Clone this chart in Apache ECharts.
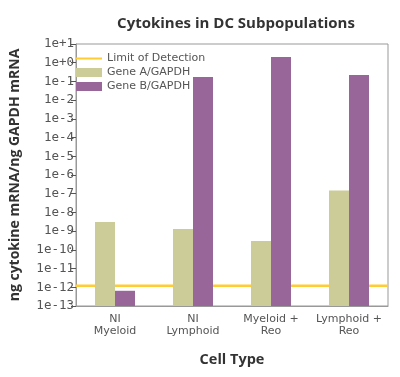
<!DOCTYPE html>
<html>
<head>
<meta charset="utf-8">
<script src="https://cdn.jsdelivr.net/npm/echarts@6/dist/echarts.min.js"></script>
<style>
  html, body { margin: 0; padding: 0; background: #fff; }
  #chart { width: 400px; height: 377px; }
</style>
</head>
<body>
<div id="chart"></div>
<script>
// data
var categories = ["NI\nMyeloid", "NI\nLymphoid", "Myeloid +\nReo", "Lymphoid +\nReo"];
var geneA = [3.1e-9, 1.3e-9, 3.0e-10, 1.5e-7];
var geneB = [6.5e-13, 0.17, 2.0, 0.22];
var limitOfDetection = 1.2e-12;

var chart = echarts.init(document.getElementById("chart"));

var option = {
  backgroundColor: "#fff",
  animation: false,
  title: {
    text: "Cytokines in DC Subpopulations",
    left: 231,
    top: 11,
    textAlign: "center",
    textStyle: { fontFamily: "Open Sans", fontWeight: "bold", fontSize: 15, color: "#333" }
  },
  legend: {
    orient: "vertical",
    left: 75,
    top: 53,
    padding: 0,
    itemWidth: 26,
    itemHeight: 9,
    itemGap: 3,
    textStyle: { fontFamily: "DejaVu Sans", fontSize: 11, color: "#555" },
    data: [
      { name: "Limit of Detection", itemStyle: { opacity: 0 } },
      { name: "Gene A/GAPDH", icon: "rect" },
      { name: "Gene B/GAPDH", icon: "rect" }
    ]
  },
  grid: {
    left: 72,
    right: 12,
    top: 44,
    bottom: 71,
    show: true,
    borderColor: "#999",
    borderWidth: 1
  },
  xAxis: [
    {
      type: "category",
      data: categories,
      name: "Cell Type",
      nameLocation: "middle",
      nameGap: 46,
      nameTextStyle: { fontFamily: "Open Sans", fontWeight: "bold", fontSize: 14.5, color: "#333" },
      axisLine: { lineStyle: { color: "#999" } },
      axisTick: { alignWithLabel: true, length: 5, lineStyle: { color: "#111" } },
      axisLabel: {
        interval: 0,
        fontFamily: "DejaVu Sans",
        fontSize: 11,
        lineHeight: 12,
        color: "#555",
        margin: 7
      }
    },
    {
      // helper axis so the detection limit spans the full plot width
      type: "value",
      min: 0,
      max: 1,
      show: false
    }
  ],
  yAxis: {
    type: "log",
    logBase: 10,
    min: 1e-13,
    max: 10,
    interval: 1,
    startValue: 1e-13,
    name: "ng cytokine mRNA/ng GAPDH mRNA",
    nameLocation: "middle",
    nameGap: 54,
    nameTextStyle: { fontFamily: "Open Sans", fontWeight: "bold", fontSize: 14, color: "#333" },
    splitLine: { show: false },
    axisLine: { show: true, lineStyle: { color: "#999" } },
    axisTick: { show: true, length: 5, lineStyle: { color: "#555" } },
    axisLabel: {
      interval: 0,
      showMinLabel: true,
      showMaxLabel: true,
      fontFamily: "DejaVu Sans Mono",
      fontSize: 12.5,
      color: "#555",
      margin: 2,
      formatter: function (v) {
        var e = Math.round(Math.log10(v));
        return "1e" + (e >= 0 ? "+" : "") + e;
      }
    }
  },
  series: [
    {
      name: "Limit of Detection",
      type: "line",
      xAxisIndex: 1,
      z: 1,
      data: [[0, limitOfDetection], [1, limitOfDetection]],
      symbol: "none",
      silent: true,
      itemStyle: { color: "#ffcc33" },
      lineStyle: { color: "#ffcc33", width: 2.5 }
    },
    {
      name: "Gene A/GAPDH",
      type: "bar",
      z: 3,
      data: geneA,
      barWidth: 20,
      barGap: "0%",
      itemStyle: { color: "#cccc99" }
    },
    {
      name: "Gene B/GAPDH",
      type: "bar",
      z: 3,
      data: geneB,
      barWidth: 20,
      barGap: "0%",
      itemStyle: { color: "#996699" }
    }
  ]
};

chart.setOption(option);
window.addEventListener("resize", function () { chart.resize(); });
</script>
</body>
</html>
